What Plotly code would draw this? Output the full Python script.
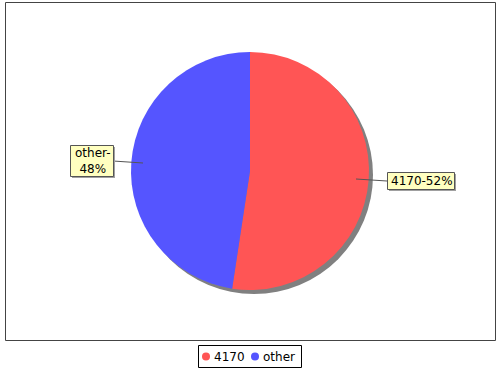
import plotly.graph_objects as go

# ---- data ----
labels = ["4170", "other"]
values = [52.4, 47.6]
colors = ["#FF5555", "#5555FF"]

W, H = 500, 370

def px(x):
    return x / W

def py(y):
    return 1 - y / H

total = sum(values)
pct = [round(v / total * 100) for v in values]

# pie geometry (pixels)
cx, cy, r = 250, 171, 119
sh = 4  # shadow offset

fig = go.Figure()

# shadow pie
fig.add_trace(go.Pie(
    values=[total], labels=["shadow"], marker=dict(colors=["#808080"], line=dict(width=0)),
    textinfo="none", hoverinfo="skip", showlegend=False, sort=False,
    domain=dict(x=[px(cx - r + sh), px(cx + r + sh)], y=[py(cy + r + sh), py(cy - r + sh)]),
))

# main pie
fig.add_trace(go.Pie(
    values=values, labels=labels, marker=dict(colors=colors, line=dict(width=0)),
    textinfo="none", sort=False, direction="clockwise", rotation=0, showlegend=False,
    domain=dict(x=[px(cx - r), px(cx + r)], y=[py(cy + r), py(cy - r)]),
))

shapes = []
annotations = []

# plot frame
shapes.append(dict(type="rect", xref="paper", yref="paper",
                   x0=px(5.5), x1=px(495.5), y0=py(340.5), y1=py(2.5),
                   line=dict(color="#444444", width=1), fillcolor="rgba(0,0,0,0)"))

# label boxes: (x0, y0, x1, y1, text, leader start, leader end)
label_boxes = [
    (387, 172, 454, 189, f"{labels[0]}-{pct[0]}%", (356, 179), (387, 181)),
    (70, 145, 113, 176, f"{labels[1]}-<br>{pct[1]}%", (143, 163), (113, 161)),
]
for x0, y0, x1, y1, txt, a, b in label_boxes:
    shapes.append(dict(type="line", xref="paper", yref="paper",
                       x0=px(a[0]), y0=py(a[1]), x1=px(b[0]), y1=py(b[1]),
                       line=dict(color="#555555", width=1)))
    shapes.append(dict(type="rect", xref="paper", yref="paper",
                       x0=px(x0 + 2), x1=px(x1 + 2), y0=py(y1 + 2), y1=py(y0 + 2),
                       line=dict(width=0), fillcolor="#A0A0A0"))
    shapes.append(dict(type="rect", xref="paper", yref="paper",
                       x0=px(x0 + 0.5), x1=px(x1 + 0.5), y0=py(y1 + 0.5), y1=py(y0 + 0.5),
                       line=dict(color="#555555", width=1), fillcolor="#FFFFC0"))
    annotations.append(dict(xref="paper", yref="paper", x=px((x0 + x1) / 2 + 1), y=py((y0 + y1) / 2 + 0.5),
                            text=txt, showarrow=False, xanchor="center", yanchor="middle",
                            font=dict(family="DejaVu Sans", size=12, color="black")))

# legend (manual)
shapes.append(dict(type="rect", xref="paper", yref="paper",
                   x0=px(198.5), x1=px(301.5), y0=py(367.5), y1=py(345.5),
                   line=dict(color="#000000", width=1), fillcolor="white"))
lx = [206, 255]
for i, (lab, col) in enumerate(zip(labels, colors)):
    x = lx[i]
    shapes.append(dict(type="circle", xref="paper", yref="paper",
                       x0=px(x - 4), x1=px(x + 4), y0=py(356.5 + 4), y1=py(356.5 - 4),
                       line=dict(width=0), fillcolor=col))
    annotations.append(dict(xref="paper", yref="paper", x=px(x + 6), y=py(356.5),
                            text=lab, showarrow=False, xanchor="left", yanchor="middle",
                            font=dict(family="DejaVu Sans", size=12, color="black")))

fig.update_layout(
    width=W, height=H, margin=dict(l=0, r=0, t=0, b=0),
    paper_bgcolor="white", plot_bgcolor="white",
    shapes=shapes, annotations=annotations, showlegend=False,
)

fig.write_html("out.html")
